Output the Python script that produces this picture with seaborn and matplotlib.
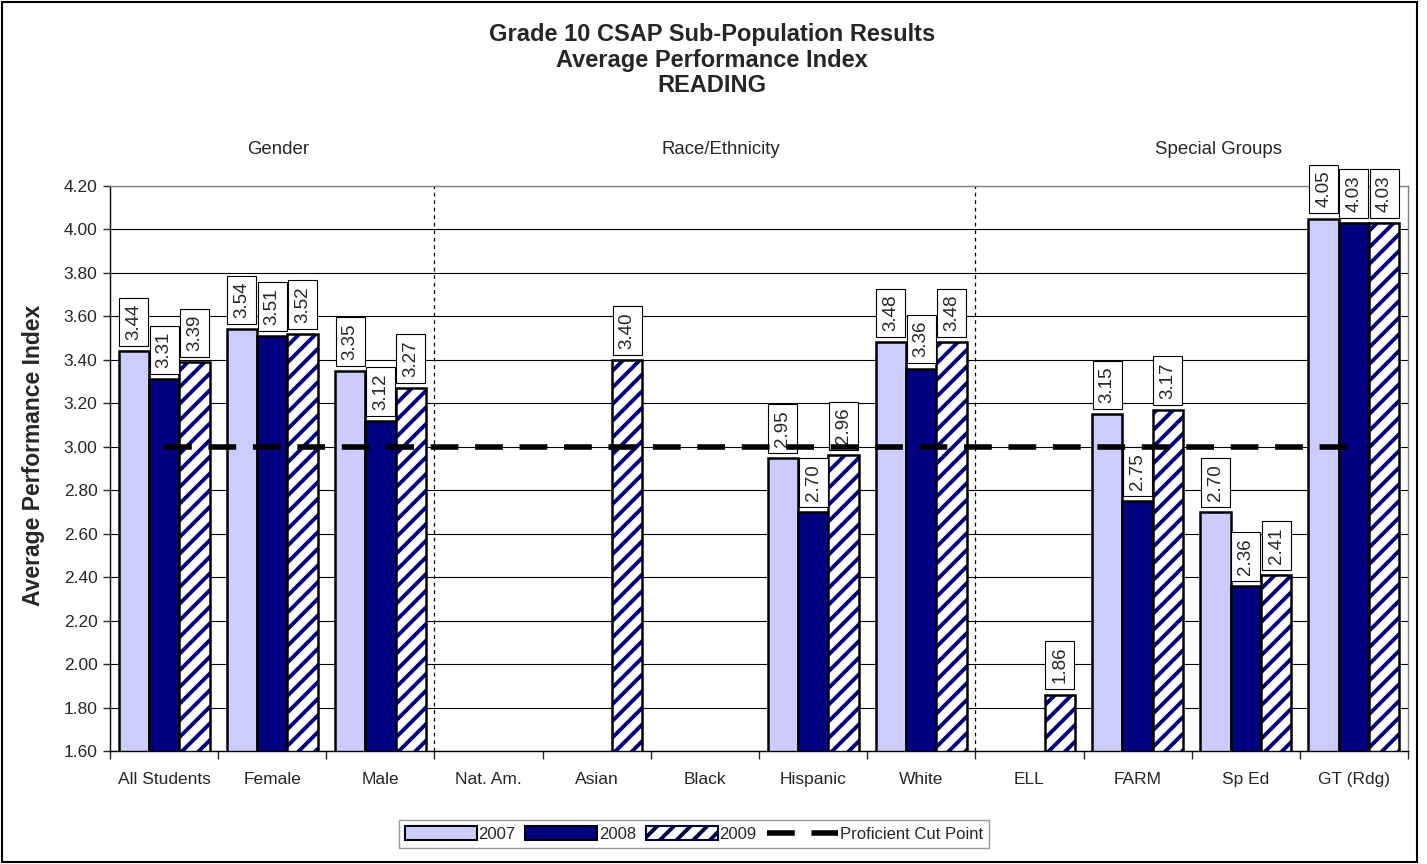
import numpy as np
import pandas as pd
import matplotlib
matplotlib.use("Agg")
import matplotlib.pyplot as plt
import matplotlib.patches as mpatches
from matplotlib.lines import Line2D
import seaborn as sns

categories = ["All Students", "Female", "Male", "Nat. Am.", "Asian", "Black",
              "Hispanic", "White", "ELL", "FARM", "Sp Ed", "GT (Rdg)"]
years = ["2007", "2008", "2009"]
v2007 = [3.44, 3.54, 3.35, np.nan, np.nan, np.nan, 2.95, 3.48, np.nan, 3.15, 2.70, 4.05]
v2008 = [3.31, 3.51, 3.12, np.nan, np.nan, np.nan, 2.70, 3.36, np.nan, 2.75, 2.36, 4.03]
v2009 = [3.39, 3.52, 3.27, np.nan, 3.40, np.nan, 2.96, 3.48, 1.86, 3.17, 2.41, 4.03]
cut_point = [3.0] * len(categories)
group_names = ["Gender", "Race/Ethnicity", "Special Groups"]
title_lines = ["Grade 10 CSAP Sub-Population Results", "Average Performance Index", "READING"]
y_ticks = [1.6 + 0.2 * i for i in range(14)]

df = pd.DataFrame({
    "category": categories * 3,
    "year": sum([[y] * len(categories) for y in years], []),
    "value": v2007 + v2008 + v2009,
})

sns.set_style("white")
plt.rcParams["font.family"] = ["Liberation Sans", "DejaVu Sans"]
plt.rcParams["hatch.linewidth"] = 2.8

W, H = 1427, 864
fig = plt.figure(figsize=(W / 100, H / 100), dpi=100)
fig.patches.append(mpatches.Rectangle((2 / W, 2 / H), 1415 / W, 860 / H, fill=False,
                                      edgecolor="black", linewidth=1.5,
                                      transform=fig.transFigure))
ax = fig.add_axes([110 / W, 113 / H, 1298 / W, 565 / H])

palette = {"2007": "#CCCCFF", "2008": "#000080", "2009": "white"}
sns.barplot(data=df, x="category", y="value", hue="year", order=categories,
            hue_order=years, palette=palette, width=0.84, edgecolor="black",
            linewidth=1.8, saturation=1, legend=False, ax=ax, zorder=2)

# hatch the 2009 bars, then redraw a black outline on top
for bar in ax.containers[2]:
    bar.set_edgecolor("#000080")
    bar.set_linewidth(0)
    bar.set_hatch("//")
    ax.add_patch(mpatches.Rectangle(bar.get_xy(), bar.get_width(), bar.get_height(),
                                    fill=False, edgecolor="black", linewidth=1.8, zorder=3))

for cont in ax.containers:
    labels = ["" if np.isnan(v) else f"{v:.2f}" for v in cont.datavalues]
    ax.bar_label(cont, labels=labels, rotation=90, padding=8, fontsize=13.5,
                 bbox=dict(boxstyle="square,pad=0.32", facecolor="white",
                           edgecolor="black", linewidth=0.8), zorder=5)

ax.plot(np.arange(len(categories)), cut_point, color="black", linewidth=4,
        dashes=(5, 3), zorder=6)

for xv in [2.5, 7.5]:
    ax.axvline(xv, color="black", linestyle=(0, (3, 3)), linewidth=0.9, zorder=1)

ax.set_ylim(1.6, 4.2)
ax.set_xlim(-0.5, len(categories) - 0.5)
ax.set_yticks(y_ticks)
ax.set_yticklabels([f"{t:.2f}" for t in y_ticks], fontsize=12.5)
ax.set_xticks(np.arange(len(categories) + 1) - 0.5, minor=True)
ax.tick_params(axis="x", which="major", labelsize=12.5, length=0, pad=15)
ax.tick_params(axis="x", which="minor", length=6, width=1, direction="out", bottom=True)
ax.tick_params(axis="y", length=5, width=1, direction="out", left=True, pad=4)
ax.yaxis.grid(True, color="black", linewidth=0.8)
ax.set_axisbelow(True)
for s in ax.spines.values():
    s.set_color("#808080")
    s.set_linewidth(1)
ax.spines["left"].set_color("black")
ax.spines["bottom"].set_color("black")
ax.set_xlabel("")
ax.set_ylabel("")

fig.text(34 / W, 1 - 455 / H, "Average Performance Index", rotation=90, ha="center",
         va="center", fontsize=16.5, fontweight="bold")

for name, xpos in zip(group_names, [1.05, 5.15, 9.75]):
    ax.text(xpos, 4.37, name, ha="center", va="center", fontsize=13.4)

for i, line in enumerate(title_lines):
    fig.text(712 / W, 1 - (35 + 25 * i) / H, line, ha="center", va="center",
             fontsize=17, fontweight="bold")

handles = [mpatches.Patch(facecolor="#CCCCFF", edgecolor="black", linewidth=1.5),
           mpatches.Patch(facecolor="#000080", edgecolor="black", linewidth=1.5),
           mpatches.Patch(facecolor="white", edgecolor="#000040", hatch="//", linewidth=1.5),
           Line2D([0], [0], color="black", linewidth=4, dashes=(5, 3))]
leg = fig.legend(handles, years + ["Proficient Cut Point"], loc="center",
                 bbox_to_anchor=(694 / W, 1 - 834 / H), ncol=4, frameon=True, fancybox=False,
                 edgecolor="#808080", fontsize=12, handlelength=4.3, handleheight=0.9,
                 handletextpad=0.1, columnspacing=0.6, borderpad=0.35)
leg.get_frame().set_linewidth(1)

fig.savefig("out.png", dpi=100)
